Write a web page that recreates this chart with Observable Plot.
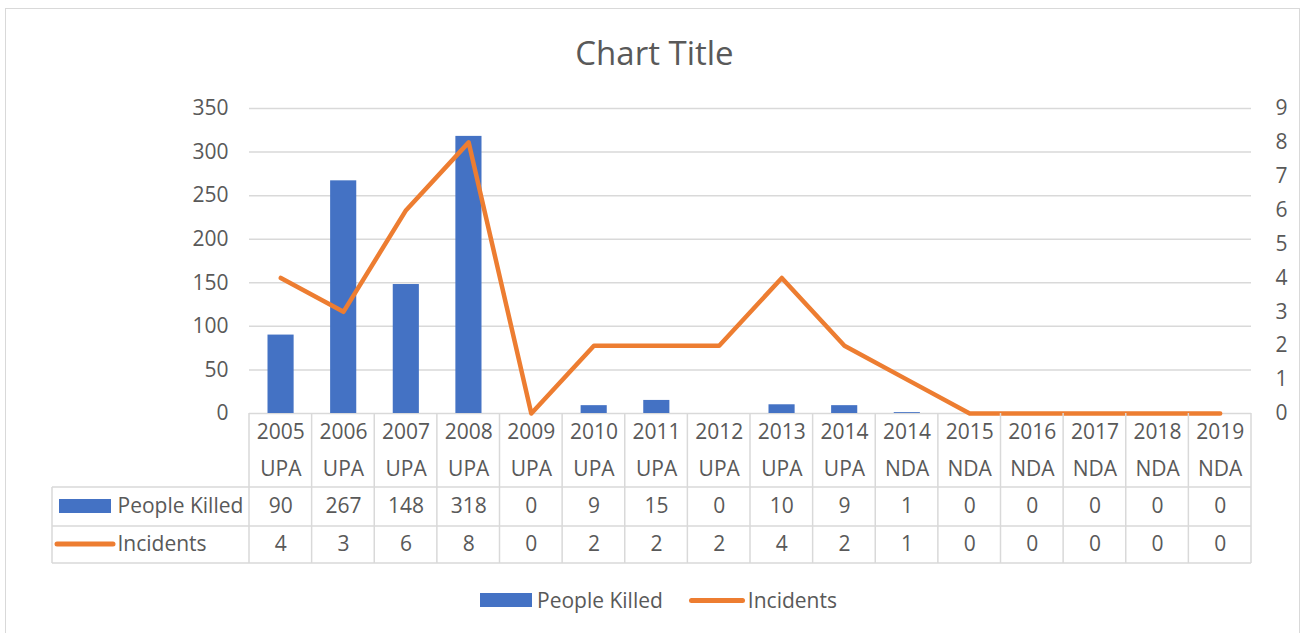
<!DOCTYPE html>
<html>
<head>
<meta charset="utf-8">
<script src="https://cdn.jsdelivr.net/npm/d3@7"></script>
<script src="https://cdn.jsdelivr.net/npm/@observablehq/plot@0.6"></script>
<style>
  html, body { margin: 0; padding: 0; background: #fff; }
  body { width: 1303px; height: 633px; position: relative; overflow: hidden; font-family: "Open Sans", sans-serif; color: #595959; }
  #frame { position: absolute; left: 5px; top: 8px; width: 1295px; height: 640px; border: 1.5px solid #d9d9d9; box-sizing: border-box; }
  #title { position: absolute; left: 3px; top: 32px; width: 1303px; text-align: center; font-size: 33px; line-height: 42px; }
  #chart { position: absolute; left: 0; top: 90px; }
  #legend { position: absolute; left: 7px; top: 588px; width: 1303px; display: flex; justify-content: center; align-items: center; font-size: 21px; line-height: 24px; }
  .item { display: flex; align-items: center; margin: 0 13px; }
  .sw-bar { width: 52px; height: 14px; margin-right: 5px; }
  .sw-line { width: 56px; height: 5px; border-radius: 3px; margin-right: 3px; }
</style>
</head>
<body>
<div id="frame"></div>
<div id="title">Chart Title</div>
<div id="chart"></div>
<div id="legend"></div>
<script>
// ---- data ----
const years = ["2005","2006","2007","2008","2009","2010","2011","2012","2013","2014","2014","2015","2016","2017","2018","2019"];
const parties = ["UPA","UPA","UPA","UPA","UPA","UPA","UPA","UPA","UPA","UPA","NDA","NDA","NDA","NDA","NDA","NDA"];
const peopleKilled = [90, 267, 148, 318, 0, 9, 15, 0, 10, 9, 1, 0, 0, 0, 0, 0];
const incidents = [4, 3, 6, 8, 0, 2, 2, 2, 4, 2, 1, 0, 0, 0, 0, 0];
const seriesNames = ["People Killed", "Incidents"];
const seriesColors = ["#4472C4", "#ED7D31"];
const leftTicks = [0, 50, 100, 150, 200, 250, 300, 350];
const rightTicks = [0, 1, 2, 3, 4, 5, 6, 7, 8, 9];
const leftMax = 350, rightMax = 9;
const toLeft = v => v * leftMax / rightMax;

const data = years.map((y, i) => ({
  key: y + " " + parties[i], year: y, party: parties[i],
  killed: peopleKilled[i], incidents: incidents[i]
}));
const keys = data.map(d => d.key);

const gridColor = "#d9d9d9";
const textColor = "#595959";

// table grid + row swatches drawn from the x scale
function tableGrid(index, scales, values, dimensions) {
  const {width, height, marginLeft, marginRight, marginBottom} = dimensions;
  const x = scales.x;
  const step = x(keys[1]) - x(keys[0]);
  const edges = keys.map(k => x(k)).concat([x(keys[keys.length - 1]) + step]);
  const y0 = height - marginBottom;
  const rowLines = [74, 113, 150];
  const left = marginLeft - 197;
  const right = width - marginRight;
  const g = d3.create("svg:g").attr("stroke", gridColor).attr("stroke-width", 1.5);
  g.selectAll("line.v").data(edges).join("line")
    .attr("x1", d => d).attr("x2", d => d).attr("y1", y0).attr("y2", y0 + 150);
  g.selectAll("line.h").data(rowLines).join("line")
    .attr("x1", left).attr("x2", right).attr("y1", d => y0 + d).attr("y2", d => y0 + d);
  g.append("line").attr("x1", left).attr("x2", left).attr("y1", y0 + 74).attr("y2", y0 + 150);
  // swatches in the row headers
  g.append("rect").attr("x", marginLeft - 190).attr("y", y0 + 86).attr("width", 52).attr("height", 14)
    .attr("fill", seriesColors[0]).attr("stroke", "none");
  g.append("line").attr("x1", marginLeft - 192).attr("x2", marginLeft - 136)
    .attr("y1", y0 + 131).attr("y2", y0 + 131)
    .attr("stroke", seriesColors[1]).attr("stroke-width", 5).attr("stroke-linecap", "round");
  return g.node();
}

const chart = Plot.plot({
  width: 1303,
  height: 500,
  marginTop: 18,
  marginBottom: 177,
  marginLeft: 249,
  marginRight: 52,
  style: { fontFamily: "'Open Sans', sans-serif", fontSize: "21px", color: textColor, background: "transparent", overflow: "visible" },
  x: { type: "band", domain: keys, padding: 0, round: false, axis: null },
  y: { domain: [0, leftMax], axis: null },
  marks: [
    Plot.ruleY(leftTicks, { y: d => d, stroke: gridColor, strokeWidth: 1.5 }),
    Plot.text(leftTicks, { y: d => d, text: d => String(d), frameAnchor: "left", textAnchor: "end", dx: -21, fill: textColor }),
    Plot.text(rightTicks, { y: d => toLeft(d), text: d => String(d), frameAnchor: "right", textAnchor: "start", dx: 24, fill: textColor }),
    Plot.barY(data, { x: "key", y: "killed", fill: seriesColors[0], insetLeft: 18.5, insetRight: 18 }),
    Plot.line(data, { x: "key", y: d => toLeft(d.incidents), stroke: seriesColors[1], strokeWidth: 4.5, strokeLinejoin: "round", strokeLinecap: "round" }),
    tableGrid,
    Plot.text(data, { x: "key", text: "year", frameAnchor: "bottom", dy: 25, fill: textColor }),
    Plot.text(data, { x: "key", text: "party", frameAnchor: "bottom", dy: 62, fill: textColor }),
    Plot.text(data, { x: "key", text: d => String(d.killed), frameAnchor: "bottom", dy: 99, fill: textColor }),
    Plot.text(data, { x: "key", text: d => String(d.incidents), frameAnchor: "bottom", dy: 137, fill: textColor }),
    Plot.text([seriesNames[0]], { text: d => d, frameAnchor: "bottom-left", textAnchor: "start", dx: -132, dy: 99, fill: textColor }),
    Plot.text([seriesNames[1]], { text: d => d, frameAnchor: "bottom-left", textAnchor: "start", dx: -132, dy: 137, fill: textColor })
  ]
});
document.getElementById("chart").appendChild(chart);

// legend
const legend = d3.select("#legend");
seriesNames.forEach((name, i) => {
  const item = legend.append("div").attr("class", "item");
  item.append("div").attr("class", i === 0 ? "sw-bar" : "sw-line").style("background", seriesColors[i]);
  item.append("span").text(name);
});
</script>
</body>
</html>
